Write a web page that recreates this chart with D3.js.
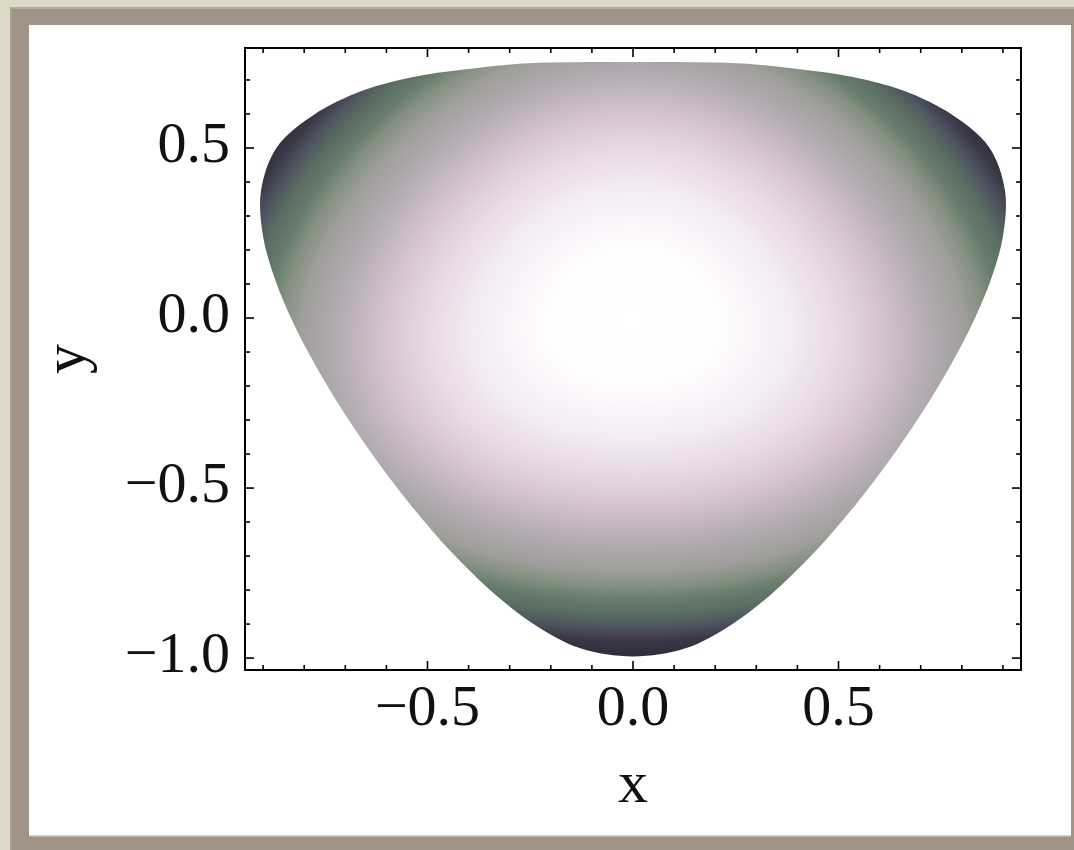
<!DOCTYPE html>
<html>
<head>
<meta charset="utf-8">
<script src="https://cdn.jsdelivr.net/npm/d3@7"></script>
<style>
  html, body { margin: 0; padding: 0; background: #dadac6; }
  svg { display: block; }
</style>
</head>
<body>
<svg id="chart" width="1074" height="850"></svg>
<script>
// ---------- data ----------
const xTickValues = [-0.5, 0.0, 0.5];
const xTickLabels = ["\u22120.5", "0.0", "0.5"];
const yTickValues = [-1.0, -0.5, 0.0, 0.5];
const yTickLabels = ["\u22121.0", "\u22120.5", "0.0", "0.5"];
const xMinorTicks = [-0.9,-0.8,-0.7,-0.6,-0.4,-0.3,-0.2,-0.1,0.1,0.2,0.3,0.4,0.6,0.7,0.8,0.9];
const yMinorTicks = [-0.9,-0.8,-0.7,-0.6,-0.4,-0.3,-0.2,-0.1,0.1,0.2,0.3,0.4,0.6,0.7];
const xDomain = [-0.944, 0.944];
const yDomain = [-1.035, 0.794];

// region boundary, right half, from top (x=0) down to bottom (x=0)
const boundaryX = [0, 0.0985, 0.1993, 0.3045, 0.4161, 0.535, 0.659, 0.7772, 0.866, 0.905, 0.9002, 0.8712, 0.8321, 0.7888, 0.7438, 0.6975, 0.6495, 0.599, 0.5445, 0.4844, 0.4161, 0.3363, 0.2412, 0.1278, 0];
const boundaryY = [0.753, 0.753, 0.751, 0.745, 0.730, 0.709, 0.668, 0.597, 0.503, 0.375, 0.2412, 0.1147, 0, -0.1038, -0.1993, -0.2889, -0.375, -0.4596, -0.5445, -0.6312, -0.7206, -0.8119, -0.9002, -0.9712, -0.995];

// density colour function: field level -> colour
const colorStops  = [0.00, 0.20, 0.35, 0.47, 0.55, 0.62, 0.68, 0.74, 0.79, 0.83, 0.87, 0.91, 0.95, 1.00];
const colorValues = ["#ffffff", "#fefcfe", "#f4ecf3", "#e6d6e5", "#d6c4d4", "#c0b4be", "#aea8ac", "#a09f9c", "#849080", "#667c6c", "#5a6e62", "#4e5460", "#3a3846", "#2e2a38"];
const fieldCenter = [0.0, 0.0];
const fieldScaleX = 1.04;     // horizontal stretch of the level curves
const edgeLighten = 0.08;     // levels are lighter toward the flat sides than toward the three corners

// ---------- layout ----------
const svg = d3.select("#chart");
const plot = { left: 245, right: 1021, top: 48, bottom: 670 };
const x = d3.scaleLinear().domain(xDomain).range([plot.left, plot.right]);
const y = d3.scaleLinear().domain(yDomain).range([plot.bottom, plot.top]);

// frame
svg.append("rect").attr("x", 10).attr("y", 7).attr("width", 1064).attr("height", 843).attr("fill", "#a09488");
svg.append("rect").attr("x", 10).attr("y", 7).attr("width", 1064).attr("height", 2).attr("fill", "#b4aaa0");
svg.append("rect").attr("x", 10).attr("y", 7).attr("width", 2).attr("height", 843).attr("fill", "#aca094");
svg.append("rect").attr("x", 29).attr("y", 25).attr("width", 1042).attr("height", 810).attr("fill", "#ffffff");
svg.append("rect").attr("x", 29).attr("y", 835).attr("width", 1042).attr("height", 1.5).attr("fill", "#d8d0c8");

// ---------- density raster ----------
const W = plot.right - plot.left, H = plot.bottom - plot.top;
const canvas = document.createElement("canvas");
canvas.width = W; canvas.height = H;
const ctx = canvas.getContext("2d");
const img = ctx.createImageData(W, H);
const colorScale = d3.scaleLinear().domain(colorStops).range(colorValues).interpolate(d3.interpolateRgb).clamp(true);
const LUT = d3.range(1025).map(i => d3.rgb(colorScale(i / 1024 * 1.1)));
for (let j = 0; j < H; j++) {
  const yv = y.invert(plot.top + j + 0.5) - fieldCenter[1];
  for (let i = 0; i < W; i++) {
    const xv = x.invert(plot.left + i + 0.5) - fieldCenter[0];
    const r = Math.sqrt((xv / fieldScaleX) ** 2 + yv * yv);
    const s = Math.sin(3 * Math.atan2(yv, xv));
    const v = r * (1 + edgeLighten * (s - 1) / 2);
    const c = LUT[Math.max(0, Math.min(1024, Math.round(v / 1.1 * 1024)))];
    const k = (j * W + i) * 4;
    img.data[k] = c.r; img.data[k + 1] = c.g; img.data[k + 2] = c.b; img.data[k + 3] = 255;
  }
}
ctx.putImageData(img, 0, 0);

// boundary (mirror the right half to the left)
const pts = boundaryX.map((bx, i) => [bx, boundaryY[i]]);
const left = pts.slice(1, -1).reverse().map(p => [-p[0], p[1]]);
const full = pts.concat(left);
const line = d3.line().x(d => x(d[0])).y(d => y(d[1])).curve(d3.curveCatmullRomClosed.alpha(0.5));

const defs = svg.append("defs");
defs.append("clipPath").attr("id", "region").append("path").attr("d", line(full));

svg.append("image")
  .attr("x", plot.left).attr("y", plot.top).attr("width", W).attr("height", H)
  .attr("preserveAspectRatio", "none")
  .attr("href", canvas.toDataURL())
  .attr("clip-path", "url(#region)");

// ---------- axes ----------
const axisG = svg.append("g").attr("stroke", "#000");
function ticks(vals, len, side) {
  vals.forEach(v => {
    if (side === "bottom") axisG.append("line").attr("x1", x(v)).attr("x2", x(v)).attr("y1", plot.bottom).attr("y2", plot.bottom - len);
    if (side === "top") axisG.append("line").attr("x1", x(v)).attr("x2", x(v)).attr("y1", plot.top).attr("y2", plot.top + len);
    if (side === "left") axisG.append("line").attr("y1", y(v)).attr("y2", y(v)).attr("x1", plot.left).attr("x2", plot.left + len);
    if (side === "right") axisG.append("line").attr("y1", y(v)).attr("y2", y(v)).attr("x1", plot.right).attr("x2", plot.right - len);
  });
}
axisG.attr("stroke-width", 1.6);
ticks(xTickValues, 9, "bottom"); ticks(xTickValues, 9, "top");
ticks(yTickValues, 9, "left"); ticks(yTickValues, 9, "right");
ticks(xMinorTicks, 5, "bottom"); ticks(xMinorTicks, 5, "top");
ticks(yMinorTicks, 5, "left"); ticks(yMinorTicks, 5, "right");

svg.append("rect").attr("x", plot.left).attr("y", plot.top).attr("width", W).attr("height", H)
  .attr("fill", "none").attr("stroke", "#000").attr("stroke-width", 2);

const font = "'Liberation Serif', 'Times New Roman', serif";
svg.append("g").selectAll("text").data(xTickValues).join("text")
  .attr("x", d => x(d)).attr("y", plot.bottom + 55)
  .attr("text-anchor", "middle").attr("font-family", font).attr("font-size", 58).attr("fill", "#111")
  .text((d, i) => xTickLabels[i]);
svg.append("g").selectAll("text").data(yTickValues).join("text")
  .attr("x", plot.left - 15).attr("y", d => y(d) + 14)
  .attr("text-anchor", "end").attr("font-family", font).attr("font-size", 58).attr("fill", "#111")
  .text((d, i) => yTickLabels[i]);

svg.append("text").attr("x", (plot.left + plot.right) / 2).attr("y", 802)
  .attr("text-anchor", "middle").attr("font-family", font).attr("font-size", 60).attr("fill", "#111").text("x");
svg.append("text").attr("transform", `translate(84, ${(plot.top + plot.bottom) / 2}) rotate(-90)`)
  .attr("text-anchor", "middle").attr("font-family", font).attr("font-size", 60).attr("fill", "#111").text("y");
</script>
</body>
</html>
